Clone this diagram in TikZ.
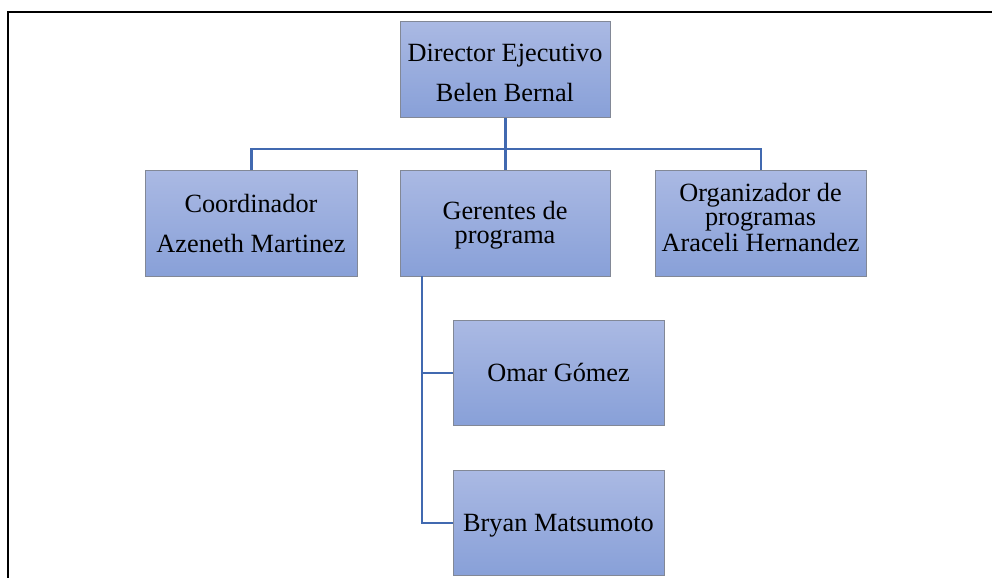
\documentclass[tikz,border=0pt]{standalone}
\usepackage{fontspec}
\setmainfont{Liberation Serif}
\begin{document}
\begin{tikzpicture}[x=1pt,y=-1pt,
  box/.style={draw={rgb,255:red,130;green,136;blue,150},line width=1.1pt,
    top color={rgb,255:red,170;green,185;blue,227},
    bottom color={rgb,255:red,136;green,160;blue,216},
    minimum width=211pt,minimum height=106pt,inner sep=0pt,anchor=north west},
  txt/.style={font=\fontsize{26.3}{26}\selectfont,anchor=base,inner sep=0pt},
  conn/.style={draw={rgb,255:red,65;green,105;blue,176},line width=2.8pt},
  frame/.style={draw=black,line width=2.8pt}]
\useasboundingbox (0,0) rectangle (992,578);
% frame
\coordinate (fTL) at (8,12);
\coordinate (fTR) at (992,12);
\coordinate (fBL) at (8,578);
\draw[frame] (fTR) -- (fTL) -- (fBL);
% boxes
\node[box,minimum width=210pt,minimum height=96pt] (dir) at (400,21) {};
\node[box,minimum width=212pt] (coord) at (145,170) {};
\node[box,minimum width=210pt] (ger) at (400,170) {};
\node[box] (org) at (655,170) {};
\node[box,minimum height=105pt] (omar) at (453,320) {};
\node[box,minimum height=105pt] (bryan) at (453,470) {};
% texts
\node[txt] (t1) at (505,62) {Director Ejecutivo};
\node[txt] (t2) at (505,101) {Belen Bernal};
\node[txt] (t3) at (251,212) {Coordinador};
\node[txt] (t4) at (251,252) {Azeneth Martinez};
\node[txt] (t5) at (505,219.5) {Gerentes de};
\node[txt] (t6) at (505,243.5) {programa};
\node[txt] (t7) at (760.5,201) {Organizador de};
\node[txt] (t8) at (760.5,225) {programas};
\node[txt] (t9) at (760.5,251) {Araceli Hernandez};
\node[txt] (t10) at (558.5,381) {Omar Gómez};
\node[txt] (t11) at (558.5,531) {Bryan Matsumoto};
% connectors
\coordinate (bus) at (505,149);
\coordinate (trunk) at (422,276);
\draw[conn] (dir.south) -- (dir.south |- bus);
\draw[conn] (coord.north) |- (bus) -| (org.north);
\draw[conn] (ger.north) -- (ger.north |- bus);
\draw[conn] (trunk) |- (omar.west);
\draw[conn] (trunk) |- (bryan.west);
\end{tikzpicture}
\end{document}
